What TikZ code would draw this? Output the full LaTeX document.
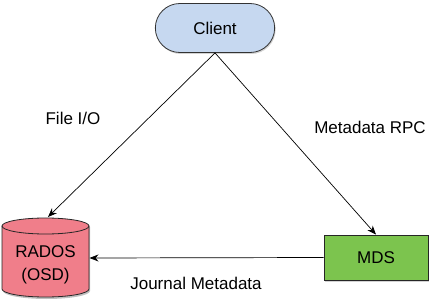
\documentclass[tikz,border=0pt]{standalone}
\usepackage{fontspec}
\setmainfont{Liberation Sans}
\usetikzlibrary{arrows.meta,shapes.misc,shadows}
\definecolor{clientfill}{RGB}{198,216,240}
\definecolor{radosfill}{RGB}{240,126,138}
\definecolor{mdsfill}{RGB}{124,196,78}
\begin{document}
\begin{tikzpicture}[x=1pt,y=1pt,
  font=\fontsize{17}{20}\selectfont,
  shd/.style={drop shadow={opacity=0.35,shadow xshift=1pt,shadow yshift=-1.5pt}},
  conn/.style={draw=black,line width=0.7pt,-{Stealth[length=9pt,width=7pt]}},
  lbl/.style={inner sep=0pt}]
\useasboundingbox (0,0) rectangle (435,302);
% Client
\node[rounded rectangle,draw=black!80,line width=0.8pt,fill=clientfill,shd,
  minimum width=126,minimum height=49] (client) at (215,274) {Client};
% MDS
\node[rectangle,draw=black!85,line width=0.8pt,fill=mdsfill,shd,
  minimum width=104,minimum height=45] (mds) at (376,44.5) {MDS};
% RADOS cylinder
\fill[black,opacity=0.25] (3,75) -- (3,11) arc[start angle=180,end angle=360,x radius=43.5,y radius=8] -- (90,75) -- cycle;
\fill[radosfill] (2,76) -- (2,13) arc[start angle=180,end angle=360,x radius=43.5,y radius=8] -- (89,76) arc[start angle=0,end angle=180,x radius=43.5,y radius=8] -- cycle;
\draw[black!85,line width=0.8pt] (2,76) -- (2,13) arc[start angle=180,end angle=360,x radius=43.5,y radius=8] -- (89,76);
\draw[black!85,line width=0.8pt] (45.5,76) ellipse[x radius=43.5,y radius=8];
\node[align=center,inner sep=0pt,minimum width=87,minimum height=64,
  font=\fontsize{17}{23}\selectfont] (rados) at (45.5,37) {RADOS\\(OSD)};
\coordinate (radostop) at (48,85);
\coordinate (radosright) at (89.5,44);
% connectors
\draw[conn] (client.south) -- (radostop);
\draw[conn] (client.south) -- (mds.north);
\draw[conn] (mds.west) -- (radosright);
% labels
\node[lbl] (l1) at (73,184) {File I/O};
\node[lbl] (l2) at (370,175) {Metadata RPC};
\node[lbl] (l3) at (196,19) {Journal Metadata};
\end{tikzpicture}
\end{document}
